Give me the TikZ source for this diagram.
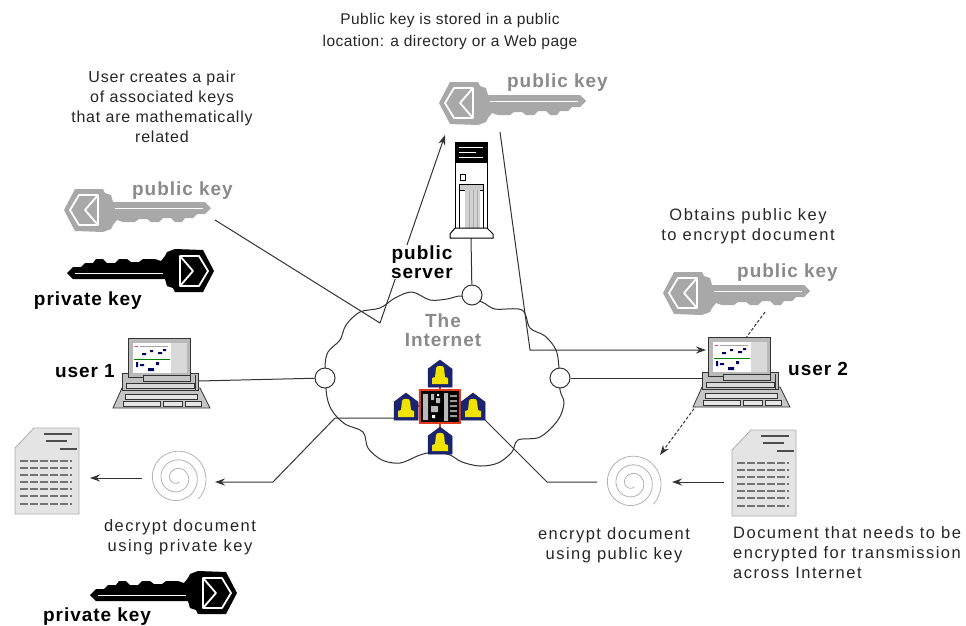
\documentclass[tikz,border=0pt]{standalone}
\usepackage{fontspec}
\setmainfont{Liberation Sans}[LetterSpace=5]
\usetikzlibrary{arrows.meta}

\definecolor{linec}{HTML}{333333}
\definecolor{keygray}{HTML}{A8A8A8}
\definecolor{txtgray}{HTML}{8A8A8A}
\definecolor{navy}{HTML}{1A2470}
\definecolor{bell}{HTML}{F2E200}
\definecolor{routerred}{HTML}{E03A20}
\definecolor{docfill}{HTML}{E4E4E4}

\tikzset{
  conn/.style={draw=linec, line width=1pt, line join=round},
  arr/.style={conn, -{Stealth[length=10pt,width=7pt]}},
  dasharr/.style={arr, dash pattern=on 3pt off 2pt},
  hub/.style={circle, draw=linec, fill=white, line width=1pt, minimum size=20pt, inner sep=0pt},
  note/.style={font=\fontsize{16}{20}\selectfont, align=center, inner sep=0pt, text=black!85},
  widenote/.style={note, font=\fontsize{16.5}{20}\selectfont\addfontfeature{LetterSpace=9}},
  topnote/.style={note, font=\fontsize{15.5}{22}\selectfont\addfontfeature{LetterSpace=3}},
  tag/.style={font=\fontsize{19}{19}\selectfont\bfseries, align=center, inner sep=0pt},
  keytag/.style={tag, text=txtgray},
  % a key: bow centred on the origin, blade pointing to +x
  keyshape/.pic={
    \fill[#1] (-23,0) -- (-12,-21) -- (16,-21) -- (18,-17) -- (24,-15) -- (26,-8)
      -- (118,-8) -- (124,-2) -- (118,4) -- (110,4) -- (106,8) -- (98,8) -- (95,12)
      -- (88,12) -- (84,8) -- (76,8) -- (72,12) -- (64,12) -- (60,9) -- (52,9)
      -- (48,12) -- (36,12) -- (30,10) -- (26,15) -- (24,19) -- (16,22) -- (-12,21) -- cycle;
    \draw[white, line width=1.8pt, line join=round]
      (-17,0) -- (-8,-15) -- (11,-15) -- (11,15) -- (-8,15) -- cycle
      (11,-15) -- (-2,0) -- (11,15);
    \draw[white, line width=0.9pt] (28,-2) -- (116,-2);
  },
  % a desktop computer: origin at the top left corner of the monitor
  pc/.pic={
    \filldraw[fill=gray!45, draw=linec, line width=0.8pt] (-6,50) -- (72,50) -- (82,70) -- (-15,70) -- cycle;
    \filldraw[fill=gray!20, draw=linec, line width=0.6pt] (-3,56) rectangle (69,61);
    \filldraw[fill=gray!20, draw=linec, line width=0.6pt] (-5,63) rectangle (32,68);
    \filldraw[fill=gray!20, draw=linec, line width=0.6pt] (35,63) rectangle (54,68);
    \filldraw[fill=gray!20, draw=linec, line width=0.6pt] (57,63) rectangle (73,68);
    \filldraw[fill=gray!50, draw=linec, line width=0.8pt] (-6,35) rectangle (70,52);
    \filldraw[fill=gray!30, draw=linec, line width=0.6pt] (-2,45) rectangle (66,50);
    \filldraw[fill=gray!55, draw=linec, line width=0.8pt] (0,0) rectangle (62,39);
    \fill[white] (5,5) rectangle (43,35);
    \fill[gray!30] (43,5) rectangle (59,35);
    \draw[red!80, line width=0.8pt] (7,8) -- (10,8);
    \draw[gray!70, line width=0.8pt] (12,8) -- (40,8);
    \draw[green!50!black, line width=0.6pt] (6,21) -- (42,21);
    \fill[blue!40!black] (14,15) rectangle (18,17) (22,12) rectangle (25,14)
      (30,14) rectangle (34,16) (12,26) rectangle (16,28) (20,30) rectangle (26,33)
      (8,24) rectangle (10,29) (28,24) rectangle (31,27) (35,11) rectangle (38,13);
    \filldraw[fill=gray!45, draw=linec, line width=0.8pt] (15,37) rectangle (62,43);
    \draw[linec, line width=0.6pt] (67,37) -- (67,52);
  },
  % a network access point around a bell
  house/.pic={
    \filldraw[fill=navy, draw=navy!80!black, line width=0.5pt]
      (-12,-5) -- (0,-14) -- (12,-5) -- (12,13) -- (-12,13) -- cycle;
    \fill[bell] (-4,-6) .. controls (-4,-9) and (4,-9) .. (4,-6) -- (5,3) -- (8,4)
      -- (8,10) -- (-8,10) -- (-8,4) -- (-5,3) -- cycle;
  },
  % a sheet of text with a cut corner: origin at the top left
  doc/.pic={
    \filldraw[fill=docfill, draw=gray!65, line width=0.8pt]
      (19,0) -- (64,0) -- (64,86) -- (0,86) -- (0,20) -- cycle;
    \draw[black!70, line width=1.3pt] (29,6) -- (57,6) (31,13) -- (52,13) (45,21) -- (62,21);
    \foreach \yy in {33,40,47,54,61,68,76}
      \draw[black!55, line width=1.2pt, dash pattern=on 8pt off 2pt] (5,\yy) -- (57,\yy);
  },
  % an encryption spiral centred on the origin
  spiral/.pic={
    \draw[gray!60, line width=0.8pt] plot[domain=60:1125, samples=260, variable=\t]
      ({(3+\t/1125*27)*cos(\t)}, {(3+\t/1125*27)*sin(\t)});
  },
}

\begin{document}
\begin{tikzpicture}[x=1pt, y=-1pt]
\useasboundingbox (0,0) rectangle (966,625);

% the Internet cloud
\filldraw[fill=white, draw=linec, line width=1pt] plot[smooth cycle, tension=0.55] coordinates {
  (325,368) (328,352) (340,340) (346,325) (360,312) (380,308) (395,298) (412,292)
  (430,300) (447,299) (462,296) (482,302) (495,309) (522,310) (530,328) (545,336)
  (556,350) (559,368) (560,390) (564,403) (558,420) (540,437) (518,440) (512,452)
  (498,463) (480,466) (462,462) (450,455) (435,452) (420,455) (400,463) (382,460)
  (368,448) (363,432) (345,424) (333,412) (327,397)};

% connection points
\coordinate (pkLtip)  at (215,220);
\coordinate (bendA)   at (380,323);
\coordinate (pkThead) at (445,135);
\coordinate (pkTtail) at (500,132);
\coordinate (bendB)   at (530,350);
\coordinate (pc2in)   at (706,350);
\coordinate (pc1port) at (198,381);
\coordinate (pc2port) at (702,378);
\coordinate (srvfoot) at (471,238);
\coordinate (apL)     at (396,418);
\coordinate (bendC)   at (335,418);
\coordinate (bendD)   at (273,482);
\coordinate (spDin)   at (215,482);
\coordinate (spDout)  at (142,478);
\coordinate (docLin)  at (90,478);
\coordinate (apR)     at (483,418);
\coordinate (bendE)   at (547,482);
\coordinate (spEin)   at (597,482);
\coordinate (docRout) at (724,482);
\coordinate (spEin2)  at (672,482);
\coordinate (pkRtip)  at (765,312);
\coordinate (spEtop)  at (660,455);

% connectors
\draw[arr] (pkLtip) -- (bendA) -- (pkThead);
\draw[arr] (pkTtail) -- (bendB) -- (pc2in);
\draw[arr] (apL) -- (bendC) -- (bendD) -- (spDin);
\draw[conn] (apR) -- (bendE) -- (spEin);
\draw[arr] (spDout) -- (docLin);
\draw[arr] (docRout) -- (spEin2);
\draw[dasharr] (pkRtip) -- (spEtop);

% points of presence on the cloud
\node[hub] (hubT) at (472,295) {};
\node[hub] (hubL) at (325,378) {};
\node[hub] (hubR) at (560,378) {};
\draw[conn] (pc1port) -- (hubL);
\draw[conn] (hubR) -- (pc2port);
\draw[conn] (srvfoot) -- (hubT);

% router with its access points
\draw[routerred, line width=1.5pt] (440,386) -- (440,428) (417,406) -- (463,406);
\filldraw[fill=black, draw=routerred, line width=1.5pt] (420,390) rectangle (460,423);
\fill[gray!55] (423,394) rectangle (428,420) (431,394) rectangle (434,400) (436,398) rectangle (440,403)
  (431,406) rectangle (438,412) (444,393) rectangle (448,421);
\fill[gray!80] (450,395) rectangle (457,397) (450,400) rectangle (457,402) (450,405) rectangle (457,407)
  (450,410) rectangle (457,412) (450,415) rectangle (457,417);
\fill[white] (437,394) rectangle (439,396) (432,415) rectangle (435,418);
\pic (apTop) at (440,374) {house};
\pic (apLeft) at (406,407) {house};
\pic (apRight) at (473,407) {house};
\pic (apBot) at (440,441) {house};

% keys
\pic (pubL) at (87,210) {keyshape=keygray};
\pic (pubT) at (462,103) {keyshape=keygray};
\pic (pubR) at (686,293) {keyshape=keygray};
\pic[rotate=180] (privA) at (191,271) {keyshape=black};
\pic[rotate=180] (privB) at (214,593) {keyshape=black};

% computers
\pic (pcA) at (128,338) {pc};
\pic (pcB) at (708,337) {pc};

% public server tower
\filldraw[fill=white, draw=black, line width=1pt] (455,142) rectangle (487,230);
\fill[black] (455,142) rectangle (487,163);
\draw[white, line width=1pt] (459,147) -- (483,147) (459,152) -- (476,152) (459,157) -- (483,157);
\draw[black, line width=0.8pt] (460,174) rectangle (465,180);
\filldraw[fill=gray!40, draw=black, line width=0.8pt] (459,184) rectangle (483,190);
\fill[gray!35] (465,190) rectangle (480,228);
\draw[gray!65, line width=0.6pt] (469,190) -- (469,228) (473,190) -- (473,228) (477,190) -- (477,228);
\draw[black, line width=0.8pt] (459,190) -- (459,228) (483,190) -- (483,228);
\filldraw[fill=white, draw=black, line width=1pt]
  (455,228) -- (487,228) -- (493,234) -- (493,238) -- (450,238) -- (450,234) -- cycle;

% documents and spirals
\pic (docL) at (15,428) {doc};
\pic (docR) at (732,430) {doc};
\pic (spD) at (177,478) {spiral};
\pic (spE) at (632,483) {spiral};

% labels
\node[topnote] (noteStore) at (450,31) {Public key is stored in a public\\location: a directory or a Web page};
\node[note] (notePair) at (162,107) {User creates a pair\\of associated keys\\that are mathematically\\related};
\node[widenote] (noteGet) at (748,226) {Obtains public key\\to encrypt document};
\node[widenote] (noteDec) at (180,537) {decrypt document\\using private key};
\node[widenote] (noteEnc) at (614,545) {encrypt document\\using public key};
\node[widenote, align=left, anchor=west] (noteDoc) at (733,553) {Document that needs to be\\encrypted for transmission\\across Internet};

\node[keytag, anchor=base west] (lblPubL) at (132,195) {public key};
\node[keytag, anchor=base west] (lblPubT) at (507,87) {public key};
\node[keytag, anchor=base west] (lblPubR) at (737,277) {public key};
\node[tag, anchor=base east] (lblPrivA) at (142,305) {private key};
\node[tag, anchor=base west] (lblPrivB) at (43,621) {private key};
\node[tag, anchor=base east] (lblUser1) at (115,377) {user 1};
\node[tag, anchor=base west] (lblUser2) at (788,375) {user 2};
\node[tag, fill=white, inner sep=1pt] (lblServer) at (422,262) {public\\server};
\node[keytag] (lblNet) at (443,330) {The\\Internet};
\end{tikzpicture}
\end{document}
